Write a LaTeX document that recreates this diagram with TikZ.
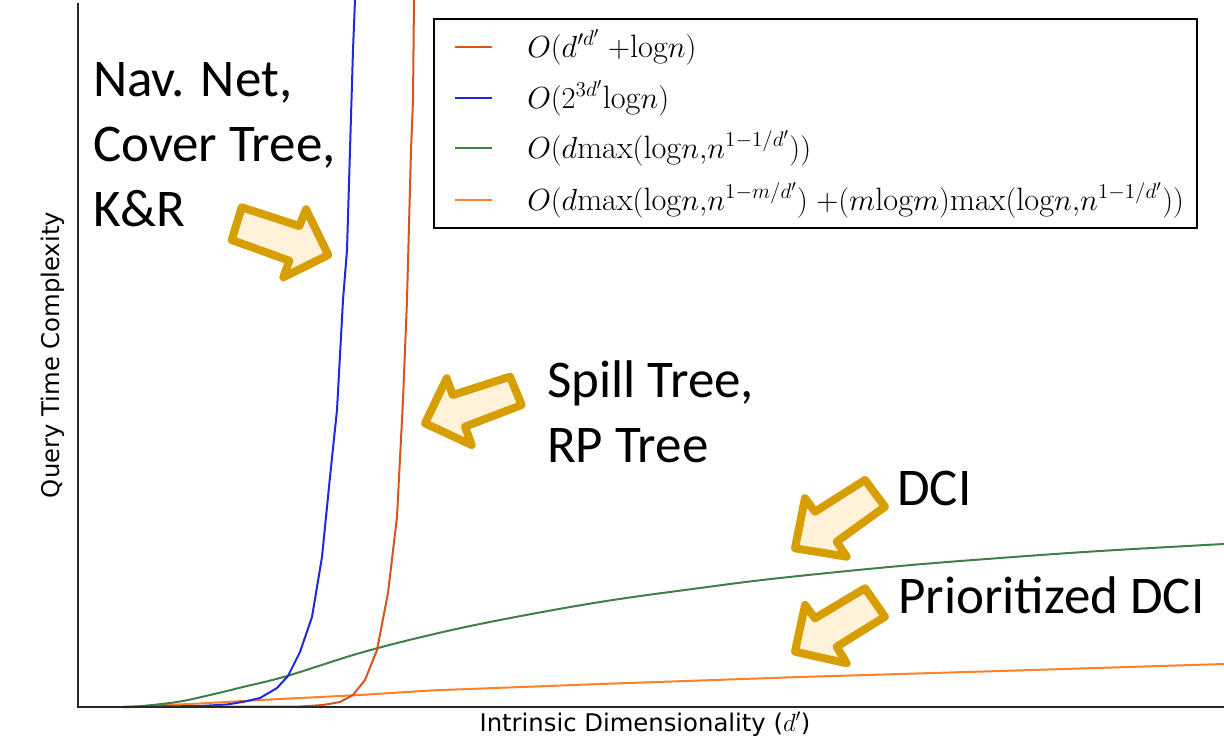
\documentclass[tikz,border=0pt]{standalone}
\usepackage{fontspec}
\newfontfamily\calib{Carlito}
\newfontfamily\dejav{DejaVu Sans}
\definecolor{cred}{RGB}{214,84,30}
\definecolor{cblue}{RGB}{30,40,220}
\definecolor{cgreen}{RGB}{64,128,72}
\definecolor{corange}{RGB}{255,128,40}
\definecolor{goldline}{RGB}{214,158,0}
\definecolor{goldfill}{RGB}{255,242,217}
\definecolor{axisc}{RGB}{40,40,40}
\begin{document}
\begin{tikzpicture}[x=1pt,y=-1pt,
  curve/.style={line width=2pt,line join=round},
  blockarrow/.style={draw=goldline,fill=goldfill,line width=8pt,line join=round},
  biglabel/.style={anchor=base west,inner sep=0pt,font=\calib\fontsize{53}{62}\selectfont},
  legtext/.style={anchor=west,inner sep=0pt,scale=1.47,font=\fontsize{22}{26}\selectfont},
  legline/.style={line width=2pt},
  axislabel/.style={inner sep=0pt,font=\dejav\fontsize{24.3}{28}\selectfont}]
\useasboundingbox (0,0) rectangle (1224,738);
\fill[white] (0,0) rectangle (1224,738);
\begin{scope}
\clip (0,0) rectangle (1224,738);
% curves
\draw[curve,corange] (123,707) -- (200,703.5) -- (260,700) -- (360,695) -- (430,690.5) -- (600,684) -- (800,677) -- (1000,671) -- (1224,664);
\draw[curve,cgreen] plot[smooth,tension=0.6] coordinates {(123,707) (137,706.5) (177,702) (210,695) (243,687) (287,676) (360,653) (430,635) (500,620) (600,602) (700,588) (780,578) (900,566) (1000,558) (1100,551) (1224,544)};
\draw[curve,cblue] (123,707) -- (200,706) -- (227,704.5) -- (245,701.5) -- (260,698) -- (277,688) -- (288,676) -- (300,652) -- (312,617) -- (322,557) -- (330,477) -- (337,410) -- (343,300) -- (347,250) -- (353,50) -- (355,0);
\draw[curve,cred] (123,707) -- (300,706.5) -- (323,705) -- (340,702) -- (353,695) -- (365,680) -- (377,650) -- (388,593) -- (397,517) -- (403,400) -- (407,300) -- (411,150) -- (413,100) -- (414,0);
\end{scope}
% axes
\draw[axisc,line width=2pt] (78,3) -- (78,707) -- (1224,707);
% axis labels
\node[axislabel,rotate=90] (ylab) at (53,355) {Query Time Complexity};
\node[axislabel,anchor=base] (xlab) at (645,731) {Intrinsic Dimensionality ($d'$)};
% legend
\draw[black,line width=1.5pt] (434,19) rectangle (1197,228);
\draw[legline,cred] (455,47) -- (492,47);
\draw[legline,cblue] (455,98) -- (492,98);
\draw[legline,cgreen] (455,148) -- (492,148);
\draw[legline,corange] (455,200) -- (492,200);
\node[legtext] (l1) at (527,47) {$O\bigl(d'^{d'}\;{+}\mathrm{log}n\bigr)$};
\node[legtext] (l2) at (527,98) {$O\bigl(2^{3d'}\mathrm{log}n\bigr)$};
\node[legtext] (l3) at (527,148) {$O\bigl(d\mathrm{max}(\mathrm{log}n{,}n^{1-1/d'})\bigr)$};
\node[legtext] (l4) at (527,200) {$O\bigl(d\mathrm{max}(\mathrm{log}n{,}n^{1-m/d'})\;{+}(m\mathrm{log}m)\mathrm{max}(\mathrm{log}n{,}n^{1-1/d'})\bigr)$};
% big labels
\node[biglabel] (nav1) at (93,97) {Nav. Net,};
\node[biglabel] (nav2) at (93,162) {Cover Tree,};
\node[biglabel] (nav3) at (93,227) {K\&R};
\node[biglabel] (sp1) at (547,397) {Spill Tree,};
\node[biglabel] (sp2) at (547,462) {RP Tree};
\node[biglabel] (dci) at (897,505) {DCI};
\node[biglabel] (pdci) at (898,613) {Prioritized DCI};
% block arrows
\draw[blockarrow] (241.7,207.3) -- (299.3,226) -- (306,209.3) -- (328.3,255) -- (283.3,277.3) -- (289.3,260.7) -- (231.7,240) -- cycle;
\draw[blockarrow] (425,423.3) -- (446.7,378.3) -- (452.7,395) -- (510,376.7) -- (521.7,405) -- (465,426.7) -- (471.7,445) -- cycle;
\draw[blockarrow] (795,548.3) -- (805,498.3) -- (815,511.7) -- (865,480) -- (885,506.7) -- (836.7,541.7) -- (846.7,556.7) -- cycle;
\draw[blockarrow] (795,651.7) -- (805,605) -- (815,618.3) -- (865,588.3) -- (885,616.7) -- (836.7,646.7) -- (846.7,663.3) -- cycle;
\end{tikzpicture}
\end{document}
